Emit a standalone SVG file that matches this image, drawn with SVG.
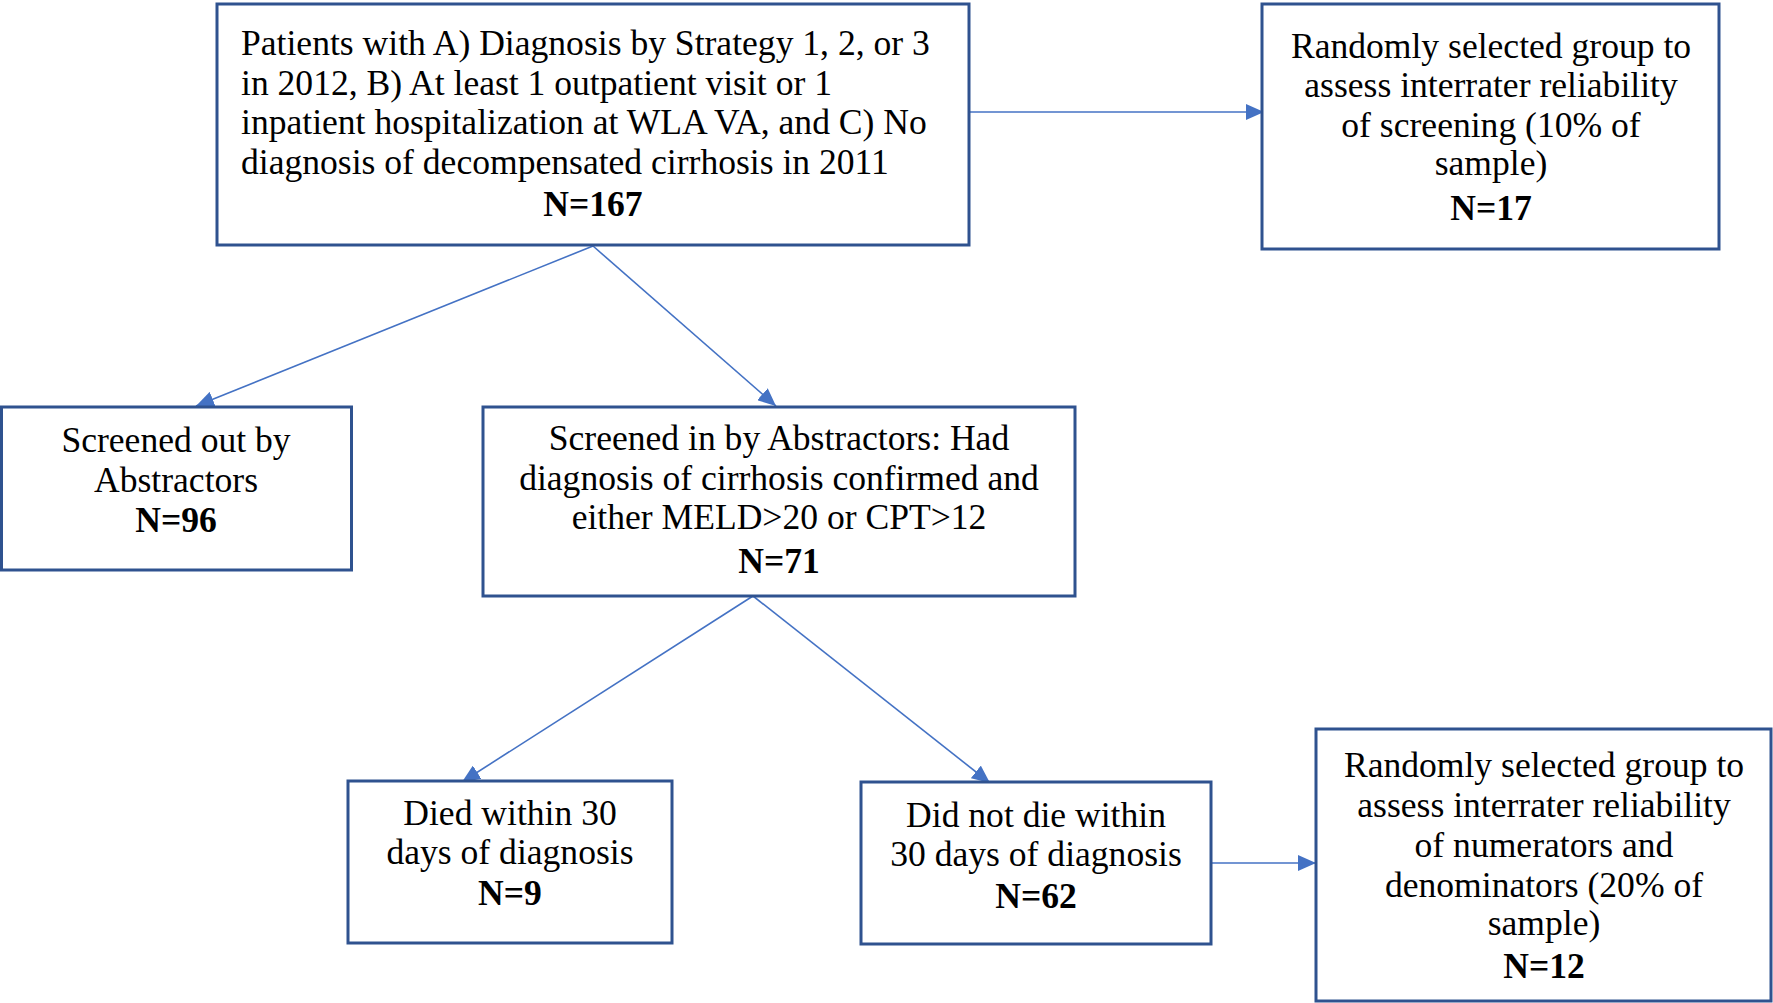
<svg xmlns="http://www.w3.org/2000/svg" width="1773" height="1003" viewBox="0 0 1773 1003">
<style>
.box{fill:#fff;stroke:#2F528F;stroke-width:3}
.t{font-family:'Liberation Serif',Tinos,'Times New Roman',Times,serif;font-size:35.6px;fill:#000}
.c{text-anchor:middle}
.b{font-weight:bold}
.ln{stroke:#4472C4;stroke-width:1.6;fill:none;marker-end:url(#ah)}
</style>
<defs>
<marker id="ah" markerUnits="userSpaceOnUse" markerWidth="20" markerHeight="16" refX="18" refY="8" orient="auto">
<path d="M0,0 L18,8 L0,16 Z" fill="#4472C4"/>
</marker>
</defs>
<rect width="1773" height="1003" fill="#fff"/>
<g id="connectors">
<line class="ln" x1="969" y1="112" x2="1264" y2="112"/>
<line class="ln" x1="593" y1="246" x2="196" y2="406"/>
<line class="ln" x1="593" y1="246" x2="776" y2="406"/>
<line class="ln" x1="753" y1="596" x2="462" y2="782"/>
<line class="ln" x1="753" y1="596" x2="990" y2="783"/>
<line class="ln" x1="1211" y1="863" x2="1316" y2="863"/>
</g>
<g id="n1">
<rect class="box" x="217" y="4" width="752" height="241"/>
<text class="t" x="241" y="55">Patients with A) Diagnosis by Strategy 1, 2, or 3</text>
<text class="t" x="241" y="94.5">in 2012, B) At least 1 outpatient visit or 1</text>
<text class="t" x="241" y="134">inpatient hospitalization at WLA VA, and C) No</text>
<text class="t" x="241" y="173.5">diagnosis of decompensated cirrhosis in 2011</text>
<text class="t c b" x="593" y="216">N=167</text>
</g>
<g id="n2">
<rect class="box" x="1262" y="4" width="457" height="245"/>
<text class="t c" x="1491" y="58">Randomly selected group to</text>
<text class="t c" x="1491" y="97">assess interrater reliability</text>
<text class="t c" x="1491" y="137">of screening (10% of</text>
<text class="t c" x="1491" y="175">sample)</text>
<text class="t c b" x="1491" y="220">N=17</text>
</g>
<g id="n3">
<rect class="box" x="1.5" y="407" width="350" height="163"/>
<text class="t c" x="176" y="452">Screened out by</text>
<text class="t c" x="176" y="492">Abstractors</text>
<text class="t c b" x="176" y="532">N=96</text>
</g>
<g id="n4">
<rect class="box" x="483" y="407" width="592" height="189"/>
<text class="t c" x="779" y="450">Screened in by Abstractors: Had</text>
<text class="t c" x="779" y="490">diagnosis of cirrhosis confirmed and</text>
<text class="t c" x="779" y="529">either MELD&gt;20 or CPT&gt;12</text>
<text class="t c b" x="779" y="573">N=71</text>
</g>
<g id="n5">
<rect class="box" x="348" y="781" width="324" height="162"/>
<text class="t c" x="510" y="825">Died within 30</text>
<text class="t c" x="510" y="864">days of diagnosis</text>
<text class="t c b" x="510" y="905">N=9</text>
</g>
<g id="n6">
<rect class="box" x="861" y="782" width="350" height="162"/>
<text class="t c" x="1036" y="827">Did not die within</text>
<text class="t c" x="1036" y="866">30 days of diagnosis</text>
<text class="t c b" x="1036" y="908">N=62</text>
</g>
<g id="n7">
<rect class="box" x="1316" y="729" width="455" height="272"/>
<text class="t c" x="1544" y="777">Randomly selected group to</text>
<text class="t c" x="1544" y="817">assess interrater reliability</text>
<text class="t c" x="1544" y="857">of numerators and</text>
<text class="t c" x="1544" y="897">denominators (20% of</text>
<text class="t c" x="1544" y="935">sample)</text>
<text class="t c b" x="1544" y="978">N=12</text>
</g>
</svg>
